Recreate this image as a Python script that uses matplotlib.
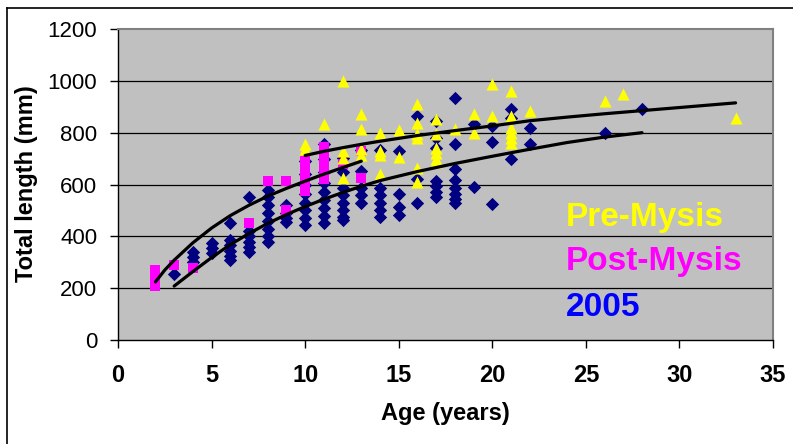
import matplotlib
matplotlib.use('Agg')
import matplotlib.pyplot as plt
from matplotlib.lines import Line2D

plt.rcParams['font.family'] = ['Liberation Sans', 'DejaVu Sans']

# Pre-Mysis (yellow triangles): age -> lengths
pre_age = [10, 10, 11, 12, 12, 12, 12, 13, 13, 13, 13, 14, 14, 14, 14, 15, 15,
           16, 16, 16, 16, 16, 16, 17, 17, 17, 17, 17, 17, 18, 19, 19, 20, 20,
           21, 21, 21, 21, 21, 21, 22, 26, 27, 33]
pre_len = [758, 738, 835, 1000, 731, 704, 627, 873, 815, 738, 712, 800, 731, 712, 642, 810, 705,
           911, 838, 796, 781, 662, 608, 854, 796, 742, 720, 700, 685, 815, 873, 800, 988, 865,
           962, 865, 819, 800, 780, 762, 885, 923, 950, 858]

# Post-Mysis (magenta squares)
post_age = [2, 2, 2, 2, 3, 4, 7, 8, 9, 9, 10, 10, 10, 10, 10, 11, 11, 11, 11, 11, 11, 12, 13, 13]
post_len = [270, 250, 230, 210, 290, 277, 450, 615, 615, 500, 690, 660, 630, 600, 575,
            745, 720, 690, 660, 640, 620, 680, 730, 627]

# 2005 (navy diamonds)
y05_age = [3, 4, 4, 4, 5, 5, 5, 6, 6, 6, 6, 6, 6, 7, 7, 7, 7, 7, 7,
           8, 8, 8, 8, 8, 8, 8, 8, 9, 9, 9, 9,
           10, 10, 10, 10, 10, 10, 10, 10, 11, 11, 11, 11, 11, 11, 11, 11, 11,
           12, 12, 12, 12, 12, 12, 12, 12, 13, 13, 13, 13, 13,
           14, 14, 14, 14, 14, 14, 15, 15, 15, 15, 16, 16, 16,
           17, 17, 17, 17, 17, 17, 17, 18, 18, 18, 18, 18, 18, 18, 18,
           19, 19, 20, 20, 20, 21, 21, 21, 22, 22, 26, 28]
y05_len = [254, 338, 320, 300, 375, 355, 335, 450, 385, 365, 345, 325, 310, 550, 420, 400, 380, 360, 340,
           580, 550, 520, 490, 460, 430, 400, 380, 520, 490, 470, 455,
           690, 640, 600, 565, 530, 500, 470, 445, 758, 700, 650, 604, 570, 540, 510, 480, 450,
           704, 650, 588, 560, 530, 500, 475, 462, 735, 654, 588, 560, 527,
           735, 588, 560, 530, 500, 473, 731, 565, 512, 481, 865, 623, 527,
           846, 781, 742, 615, 595, 570, 550, 935, 758, 658, 619, 585, 565, 545, 527,
           835, 592, 827, 765, 523, 892, 858, 700, 819, 758, 800, 892]

# growth curves
pre_curve_age = [10, 11, 12, 13, 14, 16, 18, 20, 22, 24, 26, 28, 30, 33]
pre_curve_len = [712, 728, 742, 755, 767, 789, 808, 826, 846, 860, 873, 885, 897, 915]
post_curve_age = [2, 2.5, 3, 4, 5, 6, 7, 8, 9, 10, 11, 12, 13]
post_curve_len = [224, 270, 308, 375, 432, 480, 520, 555, 585, 613, 640, 665, 690]
y05_curve_age = [3, 4, 5, 6, 7, 8, 9, 10, 11, 12, 13, 14, 16, 18, 20, 22, 24, 26, 28]
y05_curve_len = [208, 264, 318, 368, 411, 450, 484, 515, 543, 569, 593, 615, 650, 681, 709, 736, 762, 783, 800]

fig = plt.figure(figsize=(7.93, 4.44), dpi=100)
ax = fig.add_axes([118/793, 104/444, 655/793, 311/444])
ax.set_facecolor('#C0C0C0')

ax.scatter(y05_age, y05_len, marker='D', s=46, color='#000080', zorder=3, linewidths=0)
ax.scatter(post_age, post_len, marker='s', s=52, color='#FF00FF', zorder=4, linewidths=0)
ax.scatter(pre_age, pre_len, marker='^', s=76, color='#FFFF00', zorder=5, linewidths=0)

for a, l in [(pre_curve_age, pre_curve_len), (post_curve_age, post_curve_len), (y05_curve_age, y05_curve_len)]:
    ax.plot(a, l, color='black', lw=2.3, zorder=6, solid_capstyle='round')

ax.set_xlim(0, 35)
ax.set_ylim(0, 1200)
ax.set_xticks(range(0, 36, 5))
ax.set_yticks(range(0, 1201, 200))
for y in range(200, 1200, 200):
    ax.axhline(y, color='black', lw=0.9, zorder=1)

ax.tick_params(axis='both', direction='out', length=6, width=1)
ax.tick_params(axis='y', pad=9, labelsize=16)
ax.tick_params(axis='x', pad=11, labelsize=17)
for t in ax.get_xticklabels():
    t.set_fontweight('bold')
for side in ['top', 'right']:
    ax.spines[side].set_color('#808080')
    ax.spines[side].set_linewidth(1.5)
for side in ['left', 'bottom']:
    ax.spines[side].set_color('black')
    ax.spines[side].set_linewidth(1)

fig.text(445/793, 1 - 413/444, 'Age (years)', ha='center', va='center', fontsize=17, fontweight='bold')
fig.text(27/793, 1 - 184/444, 'Total length (mm)', ha='center', va='center', rotation=90,
         fontsize=17, fontweight='bold')

ax.text(0.684, 0.395, 'Pre-Mysis', transform=ax.transAxes, color='#FFFF00', fontsize=24,
        fontweight='bold', ha='left', va='center', zorder=7)
ax.text(0.684, 0.251, 'Post-Mysis', transform=ax.transAxes, color='#FF00FF', fontsize=24,
        fontweight='bold', ha='left', va='center', zorder=7)
ax.text(0.684, 0.106, '2005', transform=ax.transAxes, color='#0000FF', fontsize=24,
        fontweight='bold', ha='left', va='center', zorder=7)

# outer chart border (top and left only visible)
fig.add_artist(Line2D([7/793, 7/793], [0, 1 - 8/444], transform=fig.transFigure, color='black', lw=1.2))
fig.add_artist(Line2D([7/793, 1], [1 - 8/444, 1 - 8/444], transform=fig.transFigure, color='black', lw=1.2))

fig.savefig('out.png', dpi=100)
